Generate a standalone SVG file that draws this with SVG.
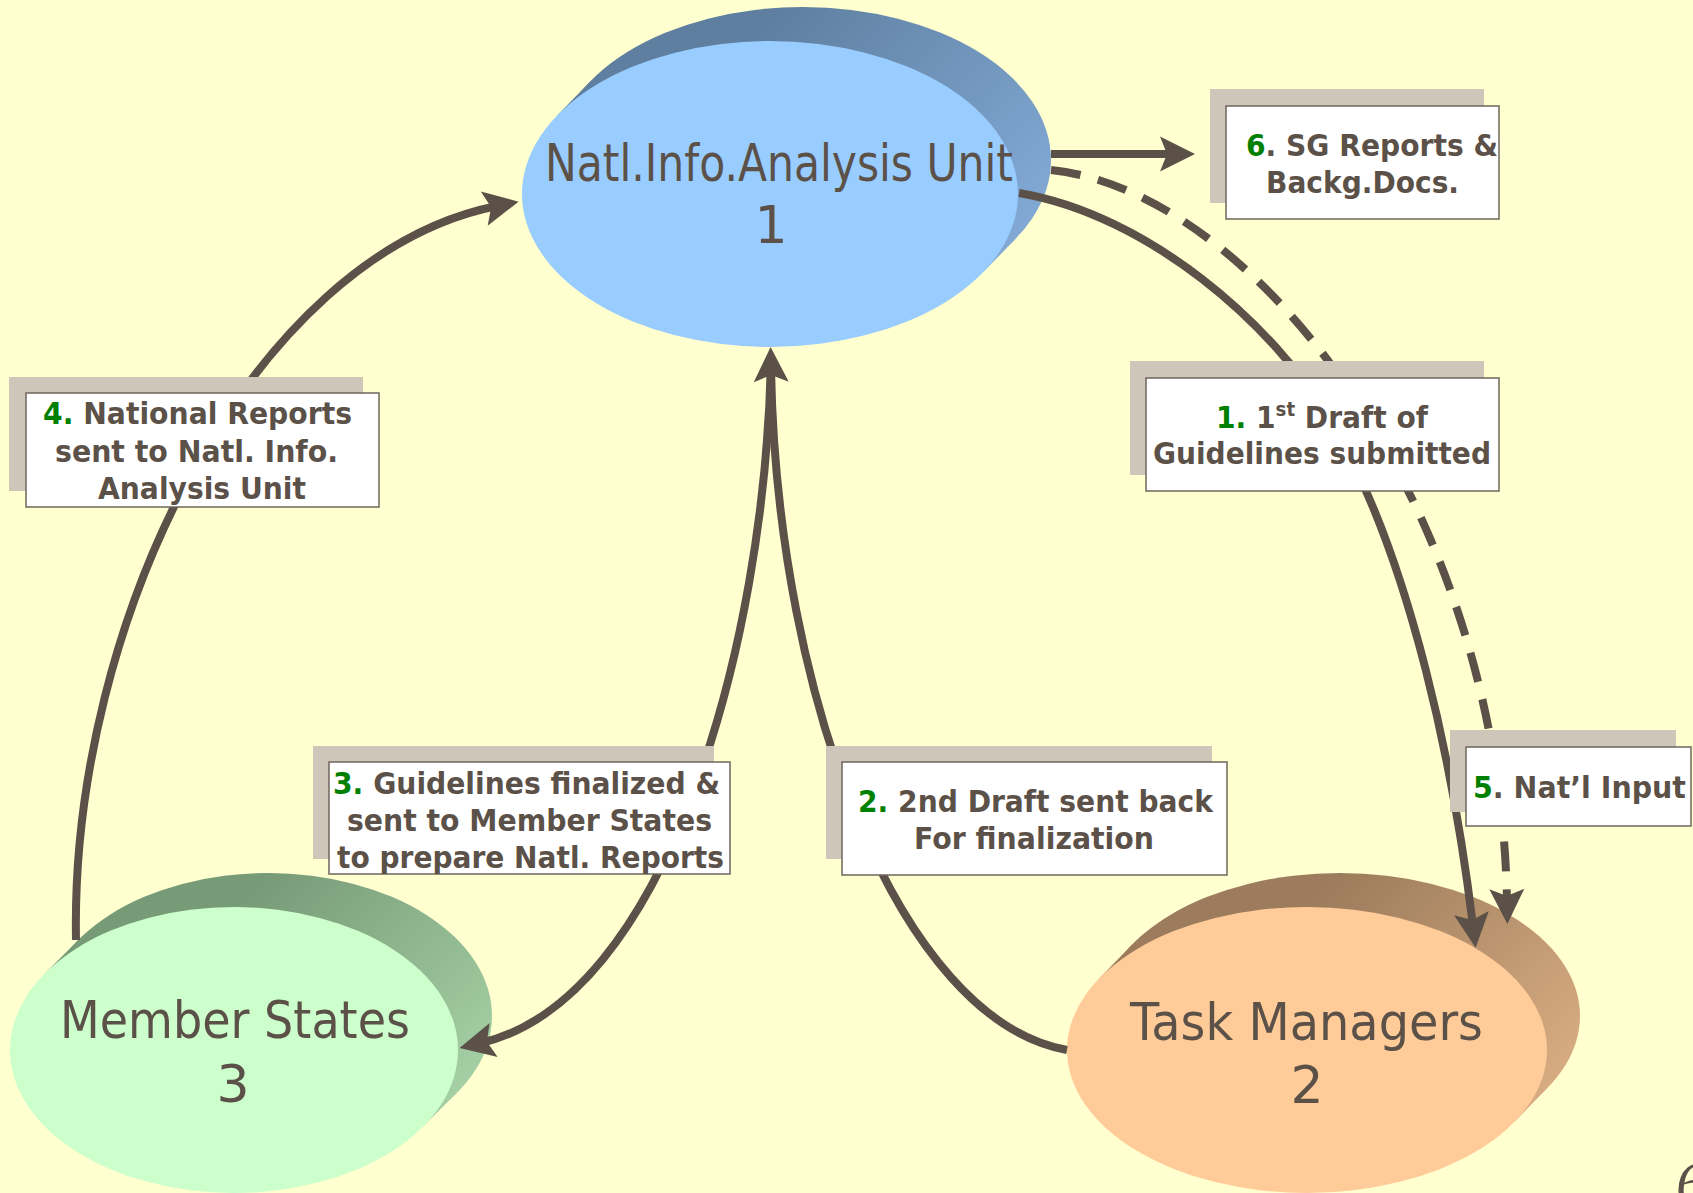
<svg xmlns="http://www.w3.org/2000/svg" width="1693" height="1193" viewBox="0 0 1693 1193">
<defs>
<style>
.bg{fill:#FFFFD0}
.node{font-family:'DejaVu Sans',Verdana,sans-serif;font-size:52px;fill:#5B5148}
.lbl{font-family:'DejaVu Sans',Verdana,sans-serif;font-size:31px;font-weight:bold;fill:#5B5148}
.num{fill:#008000}
.shadow{fill:#CEC6B8}
.box{fill:#FFFFFF;stroke:#6E665C;stroke-width:1.5}
.conn{fill:none;stroke:#5B5148;stroke-width:8}
.dash{stroke-dasharray:30 18}
</style>
<linearGradient id="gBlue" gradientUnits="userSpaceOnUse" x1="780" y1="10" x2="1050" y2="260">
<stop offset="0" stop-color="#5E7FA0"/><stop offset="1" stop-color="#86AEDB"/></linearGradient>
<linearGradient id="gGreen" gradientUnits="userSpaceOnUse" x1="270" y1="873" x2="490" y2="1100">
<stop offset="0" stop-color="#779B77"/><stop offset="1" stop-color="#A9D4A9"/></linearGradient>
<linearGradient id="gOrange" gradientUnits="userSpaceOnUse" x1="1340" y1="873" x2="1575" y2="1100">
<stop offset="0" stop-color="#9C7C5C"/><stop offset="1" stop-color="#DDB085"/></linearGradient>
<marker id="arr" viewBox="-14 -18 37 36" markerWidth="37" markerHeight="36" refX="0" refY="0" orient="auto" markerUnits="userSpaceOnUse">
<path d="M22,0 L-13,-17.5 L-6,0 L-13,17.5 Z" fill="#5B5148"/>
</marker>
</defs>
<rect class="bg" x="0" y="0" width="1693" height="1193"/>

<g id="node-natl">
<ellipse cx="803" cy="160" rx="248" ry="153" fill="url(#gBlue)"/>
<polygon points="557.2,115.4 590.2,81.4 1015.8,238.6 982.8,272.6" fill="url(#gBlue)"/>
<ellipse cx="770" cy="194" rx="248" ry="153" fill="#99CCFF"/>
<text class="node" x="545" y="181" textLength="468" lengthAdjust="spacingAndGlyphs">Natl.Info.Analysis Unit</text>
<text class="node" x="771" y="243" text-anchor="middle">1</text>
</g>

<g id="node-member">
<ellipse cx="268" cy="1016" rx="224" ry="143" fill="url(#gGreen)"/>
<polygon points="45.1,973.2 79.1,939.2 456.9,1092.8 422.9,1126.8" fill="url(#gGreen)"/>
<ellipse cx="234" cy="1050" rx="224" ry="143" fill="#CCFFCC"/>
<text class="node" x="60" y="1038" textLength="350" lengthAdjust="spacingAndGlyphs">Member States</text>
<text class="node" x="233" y="1102" text-anchor="middle">3</text>
</g>

<g id="node-task">
<ellipse cx="1340" cy="1016" rx="240" ry="143" fill="url(#gOrange)"/>
<polygon points="1099.2,978.5 1132.2,944.5 1547.8,1087.5 1514.8,1121.5" fill="url(#gOrange)"/>
<ellipse cx="1307" cy="1050" rx="240" ry="143" fill="#FFCC99"/>
<text class="node" x="1130" y="1040" textLength="353" lengthAdjust="spacingAndGlyphs">Task Managers</text>
<text class="node" x="1307" y="1103" text-anchor="middle">2</text>
</g>

<g id="connectors">
<path class="conn" d="M1051,154 H1173" marker-end="url(#arr)"/>
<path class="conn dash" d="M1051,170 C1250,190 1500,500 1507,902" marker-end="url(#arr)"/>
<path class="conn" d="M1019,193 C1149,215 1274,325 1330,420 C1412,558 1455,777 1473,926" marker-end="url(#arr)"/>
<path class="conn" d="M1067,1050 C900,1020 777,700 771,369" marker-end="url(#arr)"/>
<path class="conn" d="M771,360 C765,650 665,1000 481,1043" marker-end="url(#arr)"/>
<path class="conn" d="M76,940 C70,620 252,255 497,206" marker-end="url(#arr)"/>
</g>

<g id="label-6">
<rect class="shadow" x="1210" y="89" width="274" height="114"/>
<rect class="box" x="1226" y="106" width="273" height="113"/>
<text class="lbl" x="1246" y="156" textLength="252" lengthAdjust="spacingAndGlyphs"><tspan class="num">6</tspan>. SG Reports &amp;</text>
<text class="lbl" x="1266" y="193" textLength="193" lengthAdjust="spacingAndGlyphs">Backg.Docs.</text>
</g>

<g id="label-1">
<rect class="shadow" x="1130" y="361" width="354" height="114"/>
<rect class="box" x="1146" y="378" width="353" height="113"/>
<text class="lbl" x="1216" y="428" textLength="212" lengthAdjust="spacingAndGlyphs"><tspan class="num">1.</tspan> 1<tspan font-size="20" dy="-12">st</tspan><tspan dy="12"> Draft of</tspan></text>
<text class="lbl" x="1153" y="464" textLength="338" lengthAdjust="spacingAndGlyphs">Guidelines submitted</text>
</g>

<g id="label-4">
<rect class="shadow" x="9" y="377" width="354" height="114"/>
<rect class="box" x="26" y="393" width="353" height="114"/>
<text class="lbl" x="43" y="424" textLength="309" lengthAdjust="spacingAndGlyphs"><tspan class="num">4.</tspan> National Reports</text>
<text class="lbl" x="55" y="462" textLength="283" lengthAdjust="spacingAndGlyphs">sent to Natl. Info.</text>
<text class="lbl" x="98" y="499" textLength="208" lengthAdjust="spacingAndGlyphs">Analysis Unit</text>
</g>

<g id="label-3">
<rect class="shadow" x="313" y="746" width="401" height="113"/>
<rect class="box" x="329" y="762" width="401" height="112"/>
<text class="lbl" x="333" y="794" textLength="387" lengthAdjust="spacingAndGlyphs"><tspan class="num">3.</tspan> Guidelines finalized &amp;</text>
<text class="lbl" x="347" y="831" textLength="365" lengthAdjust="spacingAndGlyphs">sent to Member States</text>
<text class="lbl" x="337" y="868" textLength="387" lengthAdjust="spacingAndGlyphs">to prepare Natl. Reports</text>
</g>

<g id="label-2">
<rect class="shadow" x="826" y="746" width="386" height="113"/>
<rect class="box" x="842" y="762" width="385" height="113"/>
<text class="lbl" x="858" y="812" textLength="355" lengthAdjust="spacingAndGlyphs"><tspan class="num">2.</tspan> 2nd Draft sent back</text>
<text class="lbl" x="914" y="849" textLength="240" lengthAdjust="spacingAndGlyphs">For finalization</text>
</g>

<g id="label-5">
<rect class="shadow" x="1450" y="730" width="226" height="82"/>
<rect class="box" x="1466" y="747" width="225" height="79"/>
<text class="lbl" x="1473" y="798" textLength="213" lengthAdjust="spacingAndGlyphs"><tspan class="num">5</tspan>. Nat’l Input</text>
</g>

<text x="1676" y="1203" font-family="'Liberation Serif',serif" font-style="italic" font-size="60" fill="#5B5148">6</text>
</svg>
